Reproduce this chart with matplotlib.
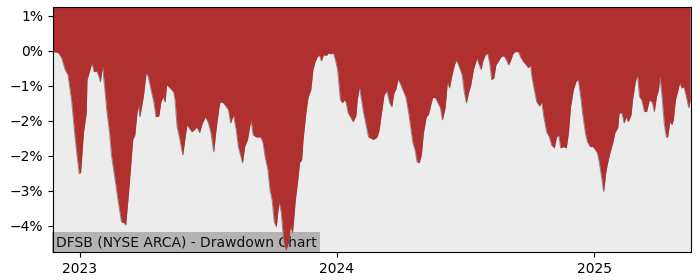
import matplotlib
matplotlib.use("Agg")
import matplotlib.pyplot as plt
import matplotlib.dates as mdates
import pandas as pd

title_text = "DFSB (NYSE ARCA) - Drawdown Chart"

dates = [
    "2022-11-24", "2022-12-01", "2022-12-06", "2022-12-11", "2022-12-15", "2022-12-20",
    "2022-12-25", "2022-12-28", "2022-12-31", "2023-01-02", "2023-01-06", "2023-01-10",
    "2023-01-11", "2023-01-14", "2023-01-18", "2023-01-21", "2023-01-25", "2023-01-28",
    "2023-01-30", "2023-02-02", "2023-02-05", "2023-02-08", "2023-02-12", "2023-02-15",
    "2023-02-20", "2023-02-24", "2023-03-01", "2023-03-05", "2023-03-07", "2023-03-11",
    "2023-03-14", "2023-03-17", "2023-03-20", "2023-03-23", "2023-03-25", "2023-03-27",
    "2023-04-01", "2023-04-05", "2023-04-08", "2023-04-13", "2023-04-16", "2023-04-19",
    "2023-04-23", "2023-04-26", "2023-04-29", "2023-05-02", "2023-05-04", "2023-05-09",
    "2023-05-14", "2023-05-16", "2023-05-19", "2023-05-23", "2023-05-27", "2023-05-30",
    "2023-06-02", "2023-06-05", "2023-06-09", "2023-06-12", "2023-06-16", "2023-06-20",
    "2023-06-23", "2023-06-28", "2023-07-02", "2023-07-06", "2023-07-09", "2023-07-10",
    "2023-07-13", "2023-07-17", "2023-07-19", "2023-07-24", "2023-07-28", "2023-07-31",
    "2023-08-03", "2023-08-07", "2023-08-11", "2023-08-14", "2023-08-17", "2023-08-20",
    "2023-08-23", "2023-08-27", "2023-08-30", "2023-09-01", "2023-09-04", "2023-09-08",
    "2023-09-11", "2023-09-15", "2023-09-18", "2023-09-21", "2023-09-25", "2023-09-28",
    "2023-10-01", "2023-10-04", "2023-10-07", "2023-10-09", "2023-10-11", "2023-10-14",
    "2023-10-16", "2023-10-18", "2023-10-21", "2023-10-24", "2023-10-27", "2023-10-30",
    "2023-11-03", "2023-11-06", "2023-11-09", "2023-11-12", "2023-11-14", "2023-11-18",
    "2023-11-21", "2023-11-25", "2023-11-28", "2023-12-01", "2023-12-04", "2023-12-07",
    "2023-12-10", "2023-12-13", "2023-12-17", "2023-12-20", "2023-12-23", "2023-12-27",
    "2023-12-30", "2024-01-02", "2024-01-06", "2024-01-09", "2024-01-11", "2024-01-14",
    "2024-01-17", "2024-01-21", "2024-01-24", "2024-01-28", "2024-01-30", "2024-02-02",
    "2024-02-08", "2024-02-11", "2024-02-15", "2024-02-20", "2024-02-22", "2024-02-27",
    "2024-03-01", "2024-03-05", "2024-03-08", "2024-03-12", "2024-03-16", "2024-03-19",
    "2024-03-22", "2024-03-25", "2024-03-28", "2024-04-01", "2024-04-05", "2024-04-08",
    "2024-04-12", "2024-04-15", "2024-04-18", "2024-04-21", "2024-04-24", "2024-04-27",
    "2024-04-30", "2024-05-03", "2024-05-07", "2024-05-10", "2024-05-13", "2024-05-16",
    "2024-05-20", "2024-05-23", "2024-05-27", "2024-05-30", "2024-06-03", "2024-06-06",
    "2024-06-09", "2024-06-12", "2024-06-16", "2024-06-19", "2024-06-23", "2024-06-27",
    "2024-06-30", "2024-07-03", "2024-07-06", "2024-07-09", "2024-07-13", "2024-07-15",
    "2024-07-18", "2024-07-20", "2024-07-24", "2024-07-26", "2024-07-30", "2024-08-02",
    "2024-08-05", "2024-08-08", "2024-08-11", "2024-08-14", "2024-08-17", "2024-08-21",
    "2024-08-25", "2024-08-28", "2024-09-01", "2024-09-04", "2024-09-07", "2024-09-10",
    "2024-09-15", "2024-09-18", "2024-09-22", "2024-09-26", "2024-09-29", "2024-10-02",
    "2024-10-04", "2024-10-07", "2024-10-11", "2024-10-15", "2024-10-18", "2024-10-21",
    "2024-10-25", "2024-10-29", "2024-11-01", "2024-11-05", "2024-11-08", "2024-11-11",
    "2024-11-14", "2024-11-18", "2024-11-22", "2024-11-25", "2024-11-28", "2024-12-02",
    "2024-12-06", "2024-12-09", "2024-12-13", "2024-12-15", "2024-12-19", "2024-12-22",
    "2024-12-26", "2024-12-30", "2025-01-02", "2025-01-05", "2025-01-08", "2025-01-11",
    "2025-01-14", "2025-01-17", "2025-01-19", "2025-01-23", "2025-01-27", "2025-01-30",
    "2025-02-03", "2025-02-05", "2025-02-09", "2025-02-12", "2025-02-15", "2025-02-18",
    "2025-02-22", "2025-02-24", "2025-02-28", "2025-03-03", "2025-03-06", "2025-03-09",
    "2025-03-13", "2025-03-16", "2025-03-20", "2025-03-24", "2025-03-27", "2025-03-30",
    "2025-04-02", "2025-04-04", "2025-04-07", "2025-04-10", "2025-04-13", "2025-04-15",
    "2025-04-18", "2025-04-21", "2025-04-23", "2025-04-26", "2025-04-29", "2025-05-02",
    "2025-05-05", "2025-05-08", "2025-05-11", "2025-05-15", "2025-05-17",
]

drawdown_pct = [
    -0.02, -0.04, -0.16, -0.43, -0.55, -1.12,
    -1.97, -2.42, -2.81, -2.77, -1.87, -1.42,
    -0.66, -0.50, -0.27, -0.48, -0.46, -0.59,
    -0.71, -0.34, -0.82, -1.35, -1.87, -2.42,
    -2.95, -3.41, -3.91, -3.93, -3.98, -3.25,
    -2.65, -2.03, -1.92, -1.42, -1.23, -1.51,
    -1.05, -0.50, -0.59, -0.96, -1.17, -1.51,
    -1.49, -1.17, -1.05, -1.17, -0.78, -0.85,
    -0.94, -1.12, -1.74, -2.03, -2.38, -2.03,
    -1.69, -1.76, -1.85, -1.81, -1.74, -1.87,
    -1.69, -1.51, -1.62, -1.87, -2.19, -2.31,
    -1.85, -1.35, -1.17, -1.19, -1.28, -1.35,
    -1.65, -1.46, -1.81, -2.19, -2.38, -2.56,
    -2.19, -2.03, -1.74, -1.58, -1.92, -1.97,
    -1.97, -1.97, -2.10, -2.42, -2.72, -3.18,
    -3.41, -3.91, -4.02, -3.70, -3.45, -3.70,
    -4.09, -4.43, -4.55, -4.39, -4.02, -4.16,
    -3.41, -3.02, -2.56, -2.49, -2.03, -1.42,
    -1.07, -0.89, -0.43, -0.25, -0.14, -0.09,
    -0.23, -0.09, -0.11, -0.05, -0.07, -0.05,
    -0.21, -0.43, -1.12, -1.19, -1.12, -1.17,
    -1.42, -1.53, -1.62, -1.49, -1.12, -0.82,
    -1.42, -1.65, -1.97, -2.01, -2.03, -1.97,
    -1.81, -1.35, -1.01, -0.91, -1.19, -1.28,
    -0.96, -0.87, -0.64, -0.78, -0.94, -1.05,
    -1.42, -1.76, -2.10, -2.26, -2.54, -2.56,
    -2.38, -1.87, -1.51, -1.46, -1.26, -1.07,
    -1.07, -1.17, -1.30, -1.58, -1.28, -0.71,
    -0.85, -0.59, -0.32, -0.21, -0.37, -0.55,
    -0.94, -1.19, -0.96, -0.80, -0.43, -0.32,
    -0.16, -0.27, -0.43, -0.25, -0.09, -0.05,
    -0.27, -0.66, -0.62, -0.32, -0.25, -0.14,
    -0.11, -0.18, -0.32, -0.21, -0.07, -0.02,
    -0.02, -0.14, -0.25, -0.32, -0.39, -0.32,
    -0.59, -0.85, -1.17, -1.26, -1.17, -1.51,
    -1.85, -1.97, -2.15, -2.22, -1.97, -1.92,
    -2.22, -2.19, -2.22, -1.87, -1.28, -0.89,
    -0.69, -0.66, -1.12, -1.42, -1.87, -2.08,
    -2.19, -2.19, -2.26, -2.33, -2.56, -2.88,
    -3.22, -2.79, -2.61, -2.33, -2.10, -1.87,
    -1.76, -1.42, -1.42, -1.65, -1.51, -1.62,
    -1.46, -1.12, -0.71, -0.55, -1.05, -1.12,
    -1.39, -1.39, -1.12, -1.17, -1.39, -1.05,
    -0.89, -0.57, -1.05, -1.65, -1.97, -1.97,
    -1.62, -1.69, -1.58, -1.12, -0.94, -0.73,
    -0.85, -0.82, -1.01, -1.30, -1.12,
]

y_ticks = [0.8, 0.0, -0.8, -1.6, -2.4, -3.2, -4.0]
y_limits = [-4.6, 1.0]

x = pd.to_datetime(dates)

fig = plt.figure(figsize=(7.0, 2.8), dpi=100)
ax = fig.add_axes([0.076, 0.1, 0.911, 0.875])
ax.set_facecolor("#ececec")

ax.fill_between(x, drawdown_pct, y_limits[1], color="#b03030", linewidth=0, zorder=2)
ax.plot(x, drawdown_pct, color="#8a8a8a", linewidth=0.7, zorder=1.5)

ax.set_ylim(*y_limits)
ax.set_xlim(x[0], x[-1] + pd.Timedelta(days=1))
ax.set_yticks(y_ticks)
ax.set_yticklabels([f"{v:.0f}%".replace("-", "\u2212") for v in y_ticks])
ax.xaxis.set_major_locator(mdates.YearLocator())
ax.xaxis.set_major_formatter(mdates.DateFormatter("%Y"))
ax.tick_params(labelsize=10)

ax.text(0.004, 0.012, title_text, transform=ax.transAxes, ha="left", va="bottom",
        fontsize=10, color="#111111", zorder=1,
        bbox=dict(facecolor="#b3b3b3", edgecolor="none", pad=2.5))

fig.savefig("out.png", dpi=100)
